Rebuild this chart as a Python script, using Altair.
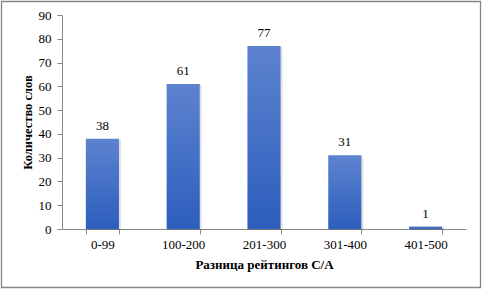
import altair as alt
import pandas as pd

categories = ["0-99", "100-200", "201-300", "301-400", "401-500"]
values = [38, 61, 77, 31, 1]
y_ticks = [0, 10, 20, 30, 40, 50, 60, 70, 80, 90]

df = pd.DataFrame({"cat": categories, "val": values})
FONT = "Liberation Serif"

x_enc = alt.X("cat:N", sort=categories,
              scale=alt.Scale(paddingInner=0.59, paddingOuter=0.295),
              axis=alt.Axis(title="Разница рейтингов С/А", labelAngle=0,
                            tickBand="extent", labelPadding=4,
                            titlePadding=7, labelOverlap=False,
                            labelFont=FONT, labelFontSize=13,
                            titleFontSize=13))
y_enc = alt.Y("val:Q", scale=alt.Scale(domain=[0, 90], nice=False),
              axis=alt.Axis(title="Количество слов", values=y_ticks,
                            grid=False, labelPadding=6, titlePadding=4,
                            labelOverlap=False, labelFont=FONT, labelFontSize=13,
                            titleFontSize=12.5))

gradient = alt.Gradient(
    gradient="linear", x1=0, y1=0, x2=0, y2=1,
    stops=[alt.GradientStop(offset=0, color="#5d83cf"),
           alt.GradientStop(offset=1, color="#2c5ebd")])

base = alt.Chart(df)

shadow = base.mark_bar(color="#000000", opacity=0.12, xOffset=2, yOffset=1).encode(
    x=x_enc, y=y_enc)
bars = base.mark_bar(color=gradient).encode(x=x_enc, y=y_enc)
labels = base.mark_text(font=FONT, fontSize=13, baseline="alphabetic", dy=-9,
                        color="#000000").encode(
    x=x_enc, y=y_enc, text="val:Q")

border = alt.Chart(pd.DataFrame({"a": [0]})).mark_rect(
    fillOpacity=0, stroke="#868686", strokeWidth=1.3).encode(
    x=alt.value(-60.5), x2=alt.value(418.5), y=alt.value(-13.5), y2=alt.value(272.5))

chart = alt.layer(border, shadow, bars, labels).properties(
    width=404, height=214,
    background="white",
    padding={"left": 62, "top": 15, "right": 17, "bottom": 62},
    autosize=alt.AutoSizeParams(type="none"),
).configure_view(stroke=None).configure_axis(
    labelFont=FONT, titleFont=FONT, labelFontSize=13, titleFontSize=13,
    titleFontWeight="bold", labelColor="#000000", titleColor="#000000",
    domainColor="#868686", tickColor="#868686", tickSize=5,
)

chart.save("out.html", embed_options={"renderer": "svg", "actions": False})
